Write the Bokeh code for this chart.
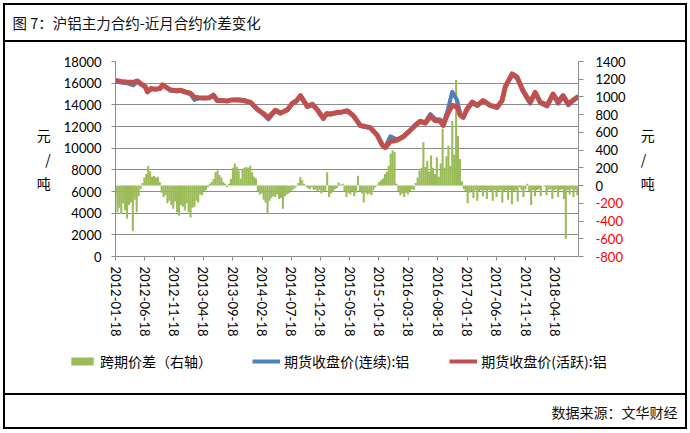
import math
import pandas as pd
from bokeh.plotting import figure
from bokeh.layouts import column
from bokeh.models import (Range1d, LinearAxis, FixedTicker, DatetimeTickFormatter,
                          CustomJSTickFormatter, ColumnDataSource, Label,
                          Legend, LegendItem)
from bokeh.embed import file_html
from bokeh.resources import INLINE

# ---------------- data ----------------
price_dates = [
    "2012-01-18", "2012-02-15", "2012-03-15", "2012-04-20", "2012-05-11", "2012-06-01",
    "2012-06-20", "2012-07-02", "2012-07-20", "2012-08-13", "2012-09-05", "2012-09-18",
    "2012-10-10", "2012-10-30", "2012-12-01", "2012-12-20", "2013-01-15", "2013-02-10",
    "2013-03-03", "2013-03-25", "2013-04-29", "2013-05-20", "2013-06-10", "2013-06-30",
    "2013-07-27", "2013-08-20", "2013-09-10", "2013-10-12", "2013-11-13", "2013-12-19",
    "2014-01-24", "2014-02-24", "2014-03-22", "2014-04-28", "2014-05-24", "2014-06-29",
    "2014-07-25", "2014-08-15", "2014-09-05", "2014-09-25", "2014-10-11", "2014-11-06",
    "2014-12-02", "2015-01-02", "2015-01-20", "2015-02-07", "2015-03-16", "2015-04-10",
    "2015-05-07", "2015-06-07", "2015-07-13", "2015-09-03", "2015-10-09", "2015-11-04",
    "2015-11-20", "2015-12-16", "2016-01-21", "2016-02-21", "2016-03-29", "2016-04-24",
    "2016-05-20", "2016-06-15", "2016-07-11", "2016-08-05", "2016-08-31", "2016-09-16",
    "2016-10-07", "2016-11-02", "2016-11-28", "2016-12-13", "2016-12-29", "2017-01-19",
    "2017-02-14", "2017-03-12", "2017-04-12", "2017-05-18", "2017-06-23", "2017-07-19",
    "2017-08-04", "2017-09-09", "2017-10-05", "2017-11-05", "2017-12-12", "2018-01-07",
    "2018-02-02", "2018-03-10", "2018-04-10", "2018-05-06", "2018-06-01", "2018-06-27",
    "2018-08-13",
]
price_active = [
    16250, 16150, 16100, 16080, 16200, 15900, 15700, 15200, 15500, 15450, 15500, 15850,
    15600, 15380, 15300, 15350, 15200, 15070, 14700, 14650, 14620, 14650, 14900, 14400,
    14400, 14350, 14450, 14450, 14400, 14230, 13600, 13200, 12800, 13500, 13250, 13550,
    14150, 14350, 14850, 14300, 13850, 14050, 13550, 12750, 13200, 13150, 13300, 13350,
    13450, 13000, 12100, 11900, 11200, 10300, 10050, 10600, 10750, 11050, 11650, 12100,
    12480, 12300, 12950, 12550, 12500, 12100, 13100, 13950, 13800, 13050, 12850, 13650,
    14250, 13950, 14400, 13950, 13800, 14400, 15650, 16850, 16550, 15300, 14250, 15150,
    14250, 13950, 15000, 14250, 14850, 14100, 14700,
]
price_continuous = [
    16150, 16050, 16000, 15800, 16150, 15850, 15650, 15200, 15450, 15400, 15500, 15800,
    15550, 15300, 15250, 15300, 15150, 15000, 14450, 14600, 14600, 14650, 14850, 14350,
    14350, 14350, 14450, 14500, 14450, 14250, 13550, 13150, 12650, 13450, 13200, 13500,
    14100, 14300, 14800, 14250, 13800, 14000, 13500, 12700, 13150, 13100, 13250, 13300,
    13400, 12950, 12050, 11850, 11150, 10250, 10100, 11100, 10800, 11100, 11700, 12200,
    12500, 12400, 13150, 12700, 12650, 12300, 13350, 15200, 14400, 13150, 12850, 13600,
    14200, 13900, 14350, 13900, 13700, 14350, 15600, 16800, 16450, 15200, 14100, 15050,
    14150, 13850, 14900, 14100, 14750, 13950, 14650,
]

spread_start = "2012-01-18"
spread_step = "10D"
spread_values = [
    -130, -300, -250, -320, -200, -280, -370, -220, -190, -510,
    -160, -300, -120, -40, 30, 90, 130, 225, 160, 100,
    110, 90, 100, 40, -80, -130, -110, -200, -170, -220,
    -260, -180, -300, -340, -220, -240, -280, -200, -300, -360,
    -250, -240, -170, -190, -100, -110, -60, -50, -20, 20,
    40, 75, 150, 170, 120, 90, 40, 20, -15, 20,
    75, 200, 250, 210, 170, 80, 190, 200, 210, 200,
    225, 150, 100, 80, -60, -100, -90, -160, -190, -320,
    -170, -140, -120, -130, -100, -150, -140, -260, -120, -100,
    -90, -60, -50, -30, -10, 30, 95, 60, 20, -10,
    -30, -40, -20, -50, -40, -60, -50, -90, -70, -60,
    150, -130, -90, -70, -40, -30, 35, 10, 20, -60,
    -130, -80, -100, -60, -120, -80, 110, -60, -90, -190,
    -80, -100, -90, -110, -50, -20, 10, 40, 60, 80,
    130, 160, 225, 360, 400, 380, 20, -60, -110, -90,
    -130, -80, -100, -60, -40, -50, 30, 90, 170, 200,
    490, 210, 280, 160, 340, 200, 130, 320, 100, 250,
    640, 200, 330, 450, 220, 730, 350, 1190, 560, 300,
    50, -40, -60, -200, -80, -60, -140, -50, -170, -60,
    -50, -120, -50, -150, -50, -60, -170, -50, -130, -60,
    -50, -190, -60, -50, -160, -50, -210, -60, -50, -180,
    -20, -50, -130, -40, 20, -60, -220, -50, -120, -50,
    -40, -120, 0, -10, -110, -50, -40, -150, -50, -40,
    -130, -50, -40, -150, -600, -50, -100, -40, -130, -50,
    -110,
]

x_tick_labels = [
    "2012-01-18", "2012-06-18", "2012-11-18", "2013-04-18", "2013-09-18", "2014-02-18",
    "2014-07-18", "2014-12-18", "2015-05-18", "2015-10-18", "2016-03-18", "2016-08-18",
    "2017-01-18", "2017-06-18", "2017-11-18", "2018-04-18",
]
left_ticks = [0, 2000, 4000, 6000, 8000, 10000, 12000, 14000, 16000, 18000]
right_ticks = [-800, -600, -400, -200, 0, 200, 400, 600, 800, 1000, 1200, 1400]

title_text = "图 7：沪铝主力合约-近月合约价差变化"
source_text = "数据来源：文华财经"
unit_text = "元\n/\n吨"
legend_labels = ["跨期价差（右轴）", "期货收盘价(连续):铝", "期货收盘价(活跃):铝"]

GREEN, BLUE, RED = "#9BBB59", "#4F81BD", "#C0504D"
CJK = "Noto Sans CJK SC"
NUM = "Lato"
GRID = "#8c8c8c"
W = 690
H_TOP, H_MAIN, H_BOT = 41, 300, 92

# ---------------- sources ----------------
pdates = pd.to_datetime(price_dates)
price_src = ColumnDataSource(dict(date=pdates, active=price_active, cont=price_continuous))
sdates = pd.date_range(spread_start, periods=len(spread_values), freq=spread_step)
spread_src = ColumnDataSource(dict(date=sdates, spread=spread_values))

# page decoration (outer box and two separators) drawn as a CSS background of the column
line = "linear-gradient(#000,#000)"
page_styles = {
    "background-color": "white",
    "background-image": ", ".join([line] * 6),
    "background-position": "3px 3px, 3px 427px, 3px 3px, 685px 3px, 3px 40px, 3px 393px",
    "background-size": "684px 2px, 684px 2px, 2px 426px, 2px 426px, 684px 2px, 684px 2px",
    "background-repeat": "no-repeat",
}

def no_align(f):
    if "frame_align" in f.properties():
        f.frame_align = False
    return f

def blank_fig(h):
    f = figure(width=W, height=h, x_range=Range1d(0, 1), y_range=Range1d(0, 1),
               output_backend="svg", toolbar_location=None, title=None,
               x_axis_location=None, y_axis_location=None,
               min_border=0, min_border_left=0, min_border_right=0,
               min_border_top=0, min_border_bottom=0,
               background_fill_color=None, border_fill_color=None, outline_line_color=None)
    f.xgrid.visible = False
    f.ygrid.visible = False
    return no_align(f)

# ---------------- top: title ----------------
top = blank_fig(H_TOP)
top.add_layout(Label(x=12, y=H_TOP - 22, x_units="screen", y_units="screen", text=title_text,
                     text_align="left", text_baseline="middle", text_font=CJK,
                     text_font_size="14.5px", text_color="#111111"))

# ---------------- main chart ----------------
p = figure(width=W, height=H_MAIN, x_axis_type="datetime",
           x_range=Range1d(pd.Timestamp("2012-01-18"), pd.Timestamp("2018-08-20")),
           y_range=Range1d(0, 18000),
           output_backend="svg", toolbar_location=None, title=None,
           min_border_left=115, min_border_right=112, min_border_top=20, min_border_bottom=85,
           background_fill_color="white", border_fill_color=None, outline_line_color=None)
no_align(p)
p.extra_y_ranges = {"right": Range1d(-800, 1400)}

def style_axis(ax, tick_out, standoff):
    ax.axis_line_color = GRID
    ax.major_tick_line_color = GRID
    ax.major_tick_out = tick_out
    ax.major_tick_in = 0
    ax.minor_tick_line_color = None
    ax.major_label_standoff = standoff
    ax.major_label_text_font = NUM
    ax.major_label_text_font_size = "13px"
    ax.major_label_text_color = "#000000"

def unit_label(ax, standoff):
    ax.axis_label = unit_text
    ax.axis_label_standoff = standoff
    ax.axis_label_text_font = CJK
    ax.axis_label_text_font_size = "14px"
    ax.axis_label_text_font_style = "normal"
    ax.axis_label_text_color = "#000000"
    if "axis_label_orientation" in ax.properties():
        ax.axis_label_orientation = "horizontal"

# left axis
ya = p.yaxis[0]
ya.ticker = FixedTicker(ticks=left_ticks)
style_axis(ya, 4, 10)
unit_label(ya, 10)

# right axis, inner: axis line, all ticks, red negative labels
ra = LinearAxis(y_range_name="right", ticker=FixedTicker(ticks=right_ticks),
                formatter=CustomJSTickFormatter(code="return tick < 0 ? tick.toFixed(0) : '';"))
style_axis(ra, 5, 12)
ra.major_label_text_color = "#FF0000"
p.add_layout(ra, "right")

# right axis, outer: black non-negative labels laid over the same label column
ra2 = LinearAxis(y_range_name="right", ticker=FixedTicker(ticks=[t for t in right_ticks if t >= 0]),
                 formatter=CustomJSTickFormatter(code="return tick.toFixed(0);"))
style_axis(ra2, 0, -30)
ra2.axis_line_color = None
ra2.major_tick_line_color = None
unit_label(ra2, 12)
p.add_layout(ra2, "right")

# x axis
xa = p.xaxis[0]
xa.ticker = FixedTicker(ticks=[pd.Timestamp(d).value // 10**6 for d in x_tick_labels])
fmt = "%Y-%m-%d"
xa.formatter = DatetimeTickFormatter(milliseconds=fmt, seconds=fmt, minsec=fmt, minutes=fmt,
                                     hourmin=fmt, hours=fmt, days=fmt, months=fmt, years=fmt)
xa.major_label_orientation = -math.pi / 2
style_axis(xa, 4, 6)

p.xgrid.visible = False
p.ygrid.grid_line_color = GRID
p.ygrid.grid_line_width = 1

bar_w = pd.Timedelta(spread_step).total_seconds() * 1000 * 1.08
p.vbar(x="date", top="spread", bottom=0, width=bar_w, source=spread_src,
       y_range_name="right", fill_color=GREEN, line_color=None)
p.line(x="date", y="cont", source=price_src, line_color=BLUE, line_width=4,
       line_join="round", line_cap="round")
p.line(x="date", y="active", source=price_src, line_color=RED, line_width=5,
       line_join="round", line_cap="round")

# ---------------- bottom: legend and source ----------------
bot = blank_fig(H_BOT)
# legend stand-in glyphs: one point each, placed outside the visible 0..1 ranges
stand_in = ColumnDataSource(dict(x=[5, 6], y=[5, 6], top=[5, 6]))
g_bar = bot.vbar(x="x", top="top", bottom=4, width=1, source=stand_in, fill_color=GREEN, line_color=None)
g_blue = bot.line(x="x", y="y", source=stand_in, line_color=BLUE, line_width=4)
g_red = bot.line(x="x", y="y", source=stand_in, line_color=RED, line_width=4)
legend = Legend(items=[LegendItem(label=legend_labels[0], renderers=[g_bar]),
                       LegendItem(label=legend_labels[1], renderers=[g_blue]),
                       LegendItem(label=legend_labels[2], renderers=[g_red])],
                orientation="horizontal", location=(68, H_BOT - 30),
                border_line_color=None, background_fill_alpha=0,
                label_text_font=CJK, label_text_font_size="14px", label_text_color="#000000",
                glyph_width=28, glyph_height=10, spacing=40, padding=0,
                label_standoff=4, margin=0)
bot.add_layout(legend)
bot.add_layout(Label(x=677, y=H_BOT - (411 - (H_TOP + H_MAIN)), x_units="screen", y_units="screen",
                     text=source_text, text_align="right", text_baseline="middle", text_font=CJK,
                     text_font_size="14px", text_color="#111111"))

page = column(top, p, bot, spacing=0, width=W, height=H_TOP + H_MAIN + H_BOT, styles=page_styles)

open("out.html", "w").write(file_html(page, INLINE))
